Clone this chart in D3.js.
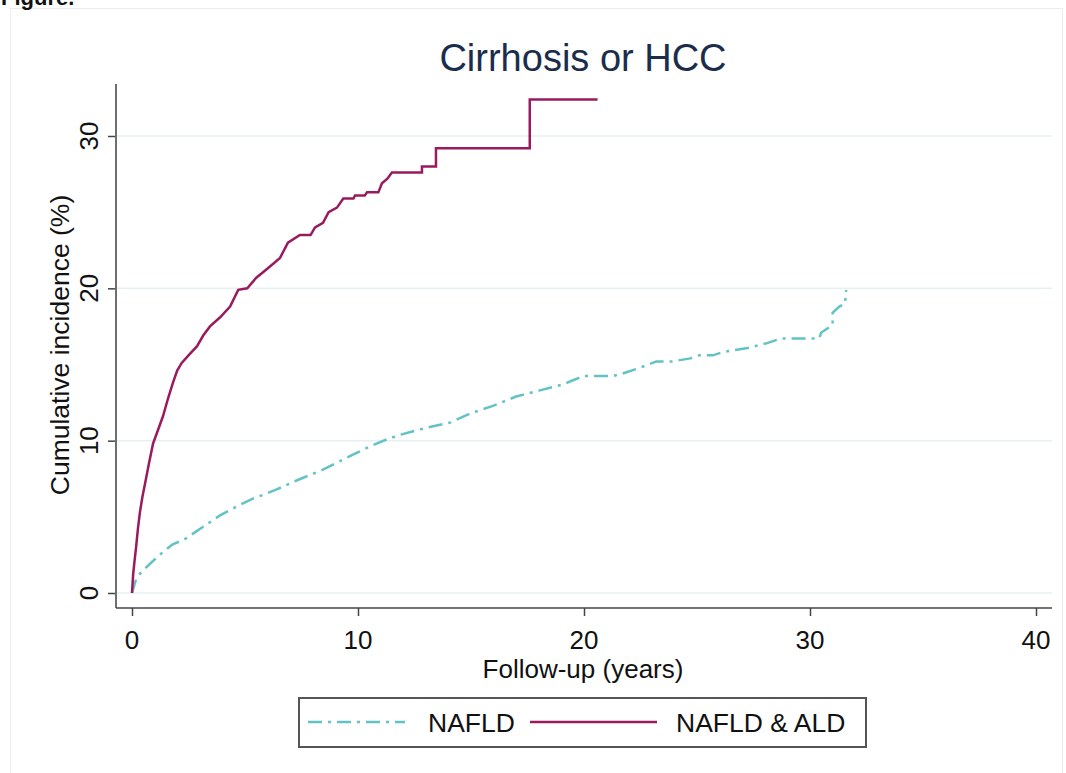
<!DOCTYPE html>
<html>
<head>
<meta charset="utf-8">
<script src="https://cdn.jsdelivr.net/npm/d3@7"></script>
<style>
  html, body { margin: 0; padding: 0; background: #fff; }
  svg { display: block; font-family: "Liberation Sans", Arial, sans-serif; }
</style>
</head>
<body>
<svg id="chart" width="1066" height="773"></svg>
<script>
// ---- Data ----
const chartTitle = "Cirrhosis or HCC";
const xTicks = [0, 10, 20, 30, 40];
const yTicks = [0, 10, 20, 30];
const seriesNames = ["NAFLD", "NAFLD & ALD"];

// NAFLD (years, cumulative incidence %)
const nafldYears = [0, 0.2, 0.5, 0.93, 1.3, 1.8, 2.3, 2.7, 3.3, 3.9, 4.4, 4.8, 5.35, 5.9, 6.4, 7.3, 8.3, 9.0, 9.8, 10.5, 11.3, 11.9, 12.9, 14.1, 15.0, 16.0, 17.0, 18.05, 19.1, 19.4, 20.0, 21.3, 21.7, 22.5, 23.2, 23.9, 24.7, 25.1, 25.7, 26.1, 26.9, 27.3, 28.1, 28.7, 30.4, 30.5, 31.0, 31.0, 31.3, 31.55, 31.6];
const nafldValues = [0, 1.0, 1.5, 2.1, 2.6, 3.2, 3.5, 3.9, 4.5, 5.1, 5.5, 5.8, 6.2, 6.5, 6.8, 7.4, 8.0, 8.5, 9.1, 9.6, 10.1, 10.4, 10.8, 11.2, 11.8, 12.3, 12.9, 13.3, 13.7, 13.9, 14.25, 14.25, 14.4, 14.8, 15.2, 15.2, 15.4, 15.6, 15.6, 15.8, 16.0, 16.1, 16.4, 16.7, 16.7, 17.1, 17.6, 18.4, 18.8, 19.0, 19.9];

// NAFLD & ALD (years, cumulative incidence %)
const aldYears = [0, 0.05, 0.12, 0.18, 0.26, 0.35, 0.46, 0.58, 0.75, 0.93, 1.15, 1.37, 1.6, 1.81, 2.0, 2.2, 2.5, 2.88, 3.15, 3.45, 3.9, 4.34, 4.7, 5.1, 5.5, 6.0, 6.55, 6.9, 7.43, 7.9, 8.1, 8.45, 8.7, 9.07, 9.35, 9.8, 9.87, 10.3, 10.4, 10.9, 11.06, 11.3, 11.5, 12.83, 12.83, 13.45, 13.45, 17.6, 17.6, 20.6];
const aldValues = [0, 1.2, 2.2, 3.0, 4.2, 5.3, 6.3, 7.2, 8.5, 9.8, 10.7, 11.6, 12.8, 13.8, 14.6, 15.1, 15.6, 16.2, 16.9, 17.5, 18.1, 18.8, 19.9, 20.0, 20.7, 21.3, 22.0, 23.0, 23.5, 23.5, 24.0, 24.3, 25.0, 25.3, 25.9, 25.9, 26.1, 26.1, 26.3, 26.3, 26.9, 27.2, 27.6, 27.6, 28.0, 28.0, 29.2, 29.2, 32.4, 32.4];

// ---- Layout ----
const svg = d3.select("#chart");
const plot = { left: 116, right: 1052, top: 84, bottom: 608 };

const x = d3.scaleLinear().domain([0, 40]).range([132, 1036]);
const y = d3.scaleLinear().domain([0, 30]).range([593, 136]);

const colNafld = "#63c3c4";
const colAld = "#991b5e";
const textCol = "#111";

// outer faint frame
svg.append("rect").attr("x", 10.5).attr("y", 8.5).attr("width", 1052).attr("height", 780)
  .attr("fill", "none").attr("stroke", "#ececec").attr("stroke-width", 1);

// "Figure." label, cut at the top edge as in the reference
svg.append("text").attr("x", 1).attr("y", 5).attr("font-size", 22).attr("font-weight", "bold")
  .attr("fill", textCol).text("Figure.");

// gridlines
svg.append("g").selectAll("line").data(yTicks).join("line")
  .attr("x1", plot.left).attr("x2", plot.right)
  .attr("y1", d => y(d)).attr("y2", d => y(d))
  .attr("stroke", "#e6f0f2").attr("stroke-width", 1.5);

// y axis
const yAxis = d3.axisLeft(y).tickValues(yTicks).tickSize(8).tickFormat("");
const gy = svg.append("g").attr("transform", `translate(${plot.left},0)`).call(yAxis);
gy.select(".domain").remove();
gy.append("line").attr("x1", 0).attr("x2", 0).attr("y1", plot.top).attr("y2", plot.bottom)
  .attr("stroke", "#6f6f6f").attr("stroke-width", 2);
gy.selectAll(".tick line").attr("stroke", "#444").attr("stroke-width", 1.5);
gy.selectAll(".tick text").remove();
svg.append("g").selectAll("text").data(yTicks).join("text")
  .attr("transform", d => `translate(98, ${y(d)}) rotate(-90)`)
  .attr("text-anchor", "middle").attr("font-size", 26).attr("fill", textCol)
  .text(d => d);

// x axis
const xAxis = d3.axisBottom(x).tickValues(xTicks).tickSize(8).tickFormat("");
const gx = svg.append("g").attr("transform", `translate(0,${plot.bottom})`).call(xAxis);
gx.select(".domain").remove();
gx.append("line").attr("x1", plot.left).attr("x2", plot.right).attr("y1", 0).attr("y2", 0)
  .attr("stroke", "#444").attr("stroke-width", 1.5);
gx.selectAll(".tick line").attr("stroke", "#444").attr("stroke-width", 1.5);
gx.selectAll(".tick text").remove();
svg.append("g").selectAll("text").data(xTicks).join("text")
  .attr("x", d => x(d)).attr("y", 649)
  .attr("text-anchor", "middle").attr("font-size", 26).attr("fill", textCol)
  .text(d => d);

// axis titles
svg.append("text").attr("x", 583).attr("y", 678).attr("text-anchor", "middle")
  .attr("font-size", 26).attr("fill", textCol).text("Follow-up (years)");
svg.append("text").attr("transform", `translate(69, 345) rotate(-90)`).attr("text-anchor", "middle")
  .attr("font-size", 26.5).attr("fill", textCol).text("Cumulative incidence (%)");

// title
svg.append("text").attr("x", 583).attr("y", 71).attr("text-anchor", "middle")
  .attr("font-size", 38).attr("fill", "#1c2d4c").text(chartTitle);

// lines
const line = d3.line().x(d => x(d[0])).y(d => y(d[1]));
const nafld = d3.zip(nafldYears, nafldValues);
const ald = d3.zip(aldYears, aldValues);

svg.append("path").datum(nafld).attr("d", line).attr("fill", "none")
  .attr("stroke", colNafld).attr("stroke-width", 2.5)
  .attr("stroke-dasharray", "14,6,3,6");
svg.append("path").datum(ald).attr("d", line).attr("fill", "none")
  .attr("stroke", colAld).attr("stroke-width", 2.5)
  .attr("stroke-linejoin", "miter");

// legend
const lg = svg.append("g");
lg.append("rect").attr("x", 299).attr("y", 698).attr("width", 567).attr("height", 49)
  .attr("fill", "#fff").attr("stroke", "#555").attr("stroke-width", 2);
lg.append("line").attr("x1", 308).attr("x2", 405).attr("y1", 722).attr("y2", 722)
  .attr("stroke", colNafld).attr("stroke-width", 2.5).attr("stroke-dasharray", "14,6,3,6");
lg.append("text").attr("x", 428).attr("y", 732).attr("font-size", 26.5).attr("fill", textCol).text(seriesNames[0]);
lg.append("line").attr("x1", 530).attr("x2", 657).attr("y1", 722).attr("y2", 722)
  .attr("stroke", colAld).attr("stroke-width", 2.5);
lg.append("text").attr("x", 676).attr("y", 732).attr("font-size", 26.5).attr("fill", textCol).text(seriesNames[1]);
</script>
</body>
</html>
